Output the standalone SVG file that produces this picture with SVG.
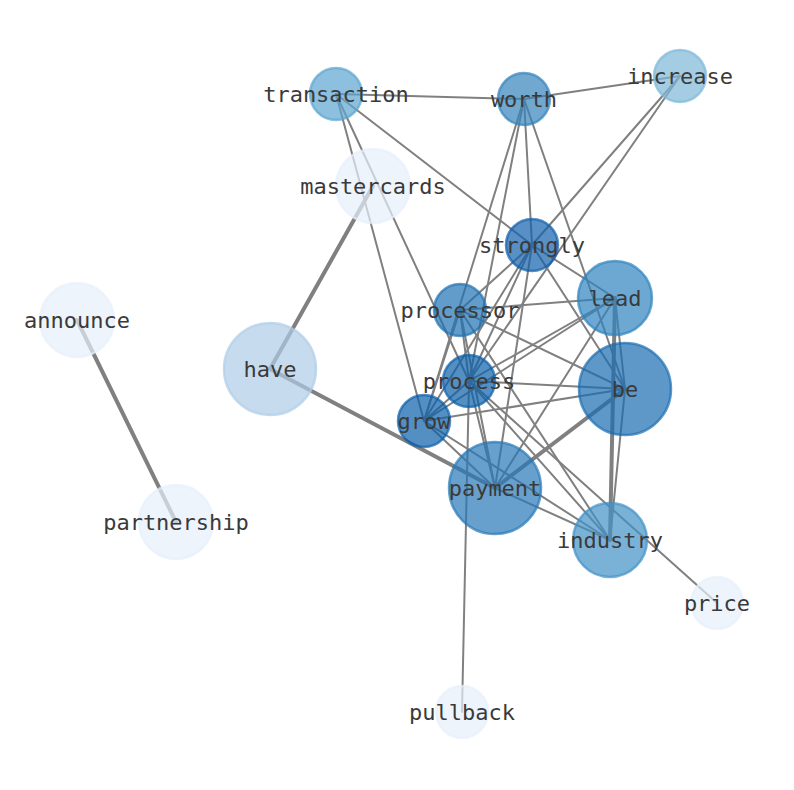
<svg xmlns="http://www.w3.org/2000/svg" width="794" height="790" viewBox="0 0 794 790">
<style>
.e{stroke:#808080;stroke-width:2;fill:none;stroke-linecap:round}
.t{stroke-width:4}
.n circle{fill-opacity:0.7;stroke-opacity:0.7;stroke-width:2.5}
.n text{font-family:"DejaVu Sans Mono",monospace;font-size:22px;fill:#3a3a3a;text-anchor:middle;dominant-baseline:central}
</style>
<rect width="794" height="790" fill="#ffffff"/>
<g id="edges">
<line class="e" x1="336" y1="94" x2="524" y2="99"/>
<line class="e" x1="524" y1="99" x2="680" y2="76"/>
<line class="e" x1="336" y1="94" x2="532" y2="245"/>
<line class="e" x1="336" y1="94" x2="424" y2="421"/>
<line class="e" x1="336" y1="94" x2="469" y2="381"/>
<line class="e" x1="524" y1="99" x2="424" y2="421"/>
<line class="e" x1="524" y1="99" x2="469" y2="381"/>
<line class="e" x1="524" y1="99" x2="532" y2="245"/>
<line class="e" x1="524" y1="99" x2="625" y2="389"/>
<line class="e" x1="680" y1="76" x2="532" y2="245"/>
<line class="e" x1="680" y1="76" x2="469" y2="381"/>
<line class="e t" x1="373" y1="186" x2="270" y2="369"/>
<line class="e t" x1="77" y1="320" x2="176" y2="522"/>
<line class="e t" x1="270" y1="369" x2="495" y2="488"/>
<line class="e" x1="532" y1="245" x2="615" y2="298"/>
<line class="e" x1="532" y1="245" x2="460" y2="310"/>
<line class="e" x1="532" y1="245" x2="625" y2="389"/>
<line class="e" x1="532" y1="245" x2="469" y2="381"/>
<line class="e" x1="532" y1="245" x2="424" y2="421"/>
<line class="e" x1="532" y1="245" x2="495" y2="488"/>
<line class="e" x1="615" y1="298" x2="460" y2="310"/>
<line class="e" x1="615" y1="298" x2="469" y2="381"/>
<line class="e" x1="615" y1="298" x2="424" y2="421"/>
<line class="e" x1="615" y1="298" x2="495" y2="488"/>
<line class="e" x1="615" y1="298" x2="625" y2="389"/>
<line class="e t" x1="615" y1="298" x2="610" y2="540"/>
<line class="e" x1="625" y1="389" x2="610" y2="540"/>
<line class="e" x1="625" y1="389" x2="469" y2="381"/>
<line class="e" x1="625" y1="389" x2="424" y2="421"/>
<line class="e" x1="625" y1="389" x2="460" y2="310"/>
<line class="e t" x1="625" y1="389" x2="495" y2="488"/>
<line class="e" x1="460" y1="310" x2="469" y2="381"/>
<line class="e" x1="460" y1="310" x2="424" y2="421"/>
<line class="e" x1="460" y1="310" x2="495" y2="488"/>
<line class="e" x1="460" y1="310" x2="610" y2="540"/>
<line class="e" x1="469" y1="381" x2="424" y2="421"/>
<line class="e" x1="469" y1="381" x2="495" y2="488"/>
<line class="e" x1="469" y1="381" x2="610" y2="540"/>
<line class="e" x1="469" y1="381" x2="717" y2="603"/>
<line class="e" x1="469" y1="381" x2="462" y2="712"/>
<line class="e" x1="424" y1="421" x2="495" y2="488"/>
<line class="e" x1="424" y1="421" x2="610" y2="540"/>
<line class="e" x1="495" y1="488" x2="610" y2="540"/>
</g>
<g id="transaction" class="n"><circle cx="336" cy="94" r="26" fill="#5ba5d0" stroke="#5ba5d0"/><text x="336" y="94">transaction</text></g>
<g id="worth" class="n"><circle cx="524" cy="99" r="26" fill="#3383bc" stroke="#3383bc"/><text x="524" y="99">worth</text></g>
<g id="increase" class="n"><circle cx="680" cy="76" r="26" fill="#7eb8d8" stroke="#7eb8d8"/><text x="680" y="76">increase</text></g>
<g id="mastercards" class="n"><circle cx="373" cy="186" r="37" fill="#e7effb" stroke="#e7effb"/><text x="373" y="186">mastercards</text></g>
<g id="strongly" class="n"><circle cx="532" cy="245" r="26" fill="#1160ab" stroke="#1160ab"/><text x="532" y="245">strongly</text></g>
<g id="lead" class="n"><circle cx="615" cy="298" r="37" fill="#2d83bf" stroke="#2d83bf"/><text x="615" y="298">lead</text></g>
<g id="processor" class="n"><circle cx="460" cy="310" r="26" fill="#1f72b3" stroke="#1f72b3"/><text x="460" y="310">processor</text></g>
<g id="announce" class="n"><circle cx="77" cy="320" r="37" fill="#e7effb" stroke="#e7effb"/><text x="77" y="320">announce</text></g>
<g id="have" class="n"><circle cx="270" cy="369" r="46" fill="#aecde7" stroke="#aecde7"/><text x="270" y="369">have</text></g>
<g id="process" class="n"><circle cx="469" cy="381" r="26" fill="#0c5fab" stroke="#0c5fab"/><text x="469" y="381">process</text></g>
<g id="be" class="n"><circle cx="625" cy="389" r="46" fill="#1a6cb0" stroke="#1a6cb0"/><text x="625" y="389">be</text></g>
<g id="grow" class="n"><circle cx="424" cy="421" r="26" fill="#0c5fab" stroke="#0c5fab"/><text x="424" y="421">grow</text></g>
<g id="payment" class="n"><circle cx="495" cy="488" r="46" fill="#2777b6" stroke="#2777b6"/><text x="495" y="488">payment</text></g>
<g id="partnership" class="n"><circle cx="176" cy="522" r="37" fill="#e7effb" stroke="#e7effb"/><text x="176" y="522">partnership</text></g>
<g id="industry" class="n"><circle cx="610" cy="540" r="37" fill="#4191c6" stroke="#4191c6"/><text x="610" y="540">industry</text></g>
<g id="price" class="n"><circle cx="717" cy="603" r="26" fill="#e7effb" stroke="#e7effb"/><text x="717" y="603">price</text></g>
<g id="pullback" class="n"><circle cx="462" cy="712" r="26" fill="#e7effb" stroke="#e7effb"/><text x="462" y="712">pullback</text></g>
</svg>
